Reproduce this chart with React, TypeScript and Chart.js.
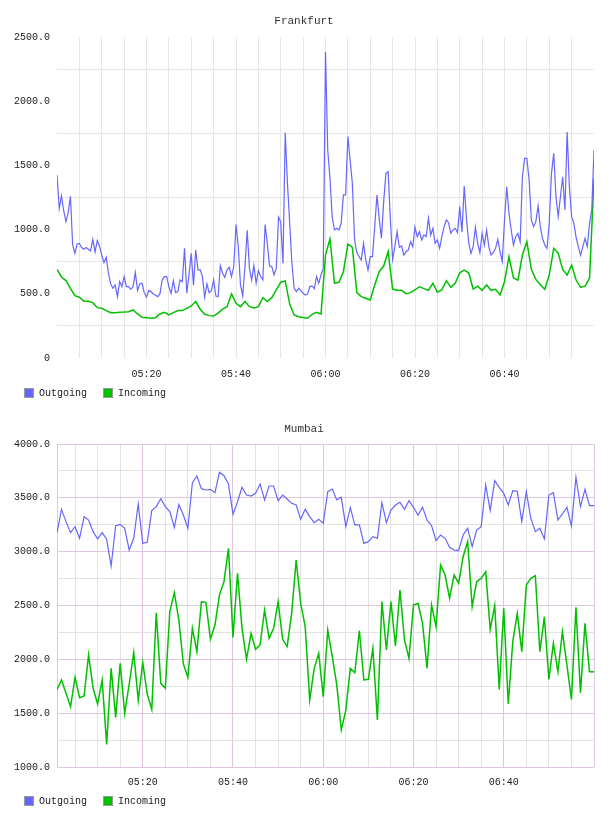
import React, { useEffect, useRef } from 'react';
import { Chart, registerables } from 'chart.js';

Chart.register(...registerables);

const FONT_FAMILY = "'Liberation Mono', 'DejaVu Sans Mono', monospace";
const OUT_COLOR = '#6666ff';
const IN_COLOR = '#00c000';

// Time axis in minutes after 05:00
const frankfurtTimeTicks = [0, 5, 10, 15, 20, 25, 30, 35, 40, 45, 50, 55, 60, 65, 70, 75, 80, 85, 90, 95, 100, 105, 110, 115, 120];
const mumbaiTimeTicks = [1, 5, 10, 15, 20, 25, 30, 35, 40, 45, 50, 55, 60, 65, 70, 75, 80, 85, 90, 95, 100, 105, 110, 115, 120];
const timeLabelMinutes = [20, 40, 60, 80, 100];
const timeLabels = ['05:20', '05:40', '06:00', '06:20', '06:40'];

const frankfurtValueTicks = [0, 250, 500, 750, 1000, 1250, 1500, 1750, 2000, 2250, 2500];
const frankfurtValueLabels = ['0', '', '500.0', '', '1000.0', '', '1500.0', '', '2000.0', '', '2500.0'];
const mumbaiValueTicks = [1000, 1250, 1500, 1750, 2000, 2250, 2500, 2750, 3000, 3250, 3500, 3750, 4000];
const mumbaiValueLabels = ['1000.0', '', '1500.0', '', '2000.0', '', '2500.0', '', '3000.0', '', '3500.0', '', '4000.0'];

// Frankfurt: outgoing every 30 s from 05:00, incoming every minute from 05:00
const frankfurtOutgoing = [
  1425, 1166, 1262, 1145, 1062, 1132, 1260, 880, 815, 888,
  893, 860, 847, 860, 847, 834, 924, 826, 914, 870,
  802, 743, 784, 660, 577, 543, 569, 478, 595, 556,
  634, 556, 556, 535, 556, 665, 525, 577, 582, 509,
  473, 525, 517, 499, 488, 478, 499, 608, 634, 634,
  556, 504, 603, 509, 517, 608, 595, 854, 504, 647,
  815, 566, 841, 686, 686, 634, 473, 577, 509, 525,
  608, 483, 478, 720, 660, 628, 686, 706, 634, 712,
  1040, 872, 569, 483, 712, 995, 698, 608, 720, 582,
  680, 634, 608, 1040, 893, 717, 712, 647, 698, 1096,
  1060, 737, 1755, 1360, 1049, 732, 543, 517, 543, 525,
  504, 491, 499, 556, 561, 540, 634, 582, 647, 698,
  2385, 1620, 1400, 1100, 997, 1010, 997, 1049, 1270, 1270,
  1725, 1542, 1360, 919, 821, 789, 763, 893, 763, 685,
  789, 789, 1023, 1270, 1088, 932, 1218, 1438, 1451, 1075,
  769, 867, 984, 862, 872, 802, 828, 841, 906, 867,
  1018, 945, 984, 919, 958, 945, 1088, 958, 1010, 893,
  919, 854, 945, 1023, 1075, 1054, 971, 997, 1010, 976,
  1179, 980, 1340, 1088, 898, 815, 867, 1018, 893, 820,
  971, 880, 997, 867, 802, 823, 854, 924, 828, 750,
  1075, 1334, 1127, 997, 880, 945, 971, 906, 1412, 1555,
  1555, 1386, 1075, 1023, 1062, 1184, 1023, 932, 880, 854,
  1049, 1438, 1594, 1256, 1101, 1256, 1412, 1153, 1760, 1334,
  1101, 1049, 940, 867, 800, 867, 932, 867, 1044, 1153, 1620,
];
const frankfurtIncoming = [
  691, 631, 603, 543, 486, 473, 442, 442, 431, 392,
  387, 369, 353, 353, 356, 358, 361, 374, 343, 317,
  314, 309, 314, 343, 356, 335, 353, 369, 369, 387,
  405, 440, 380, 340, 330, 327, 350, 380, 400, 499,
  426, 400, 440, 400, 390, 400, 470, 440, 470, 530,
  590, 600, 420, 335, 322, 315, 310, 340, 355, 343,
  802, 927, 584, 590, 672, 888, 862, 509, 478, 465,
  452, 569, 672, 716, 828, 537, 527, 527, 501, 509,
  530, 555, 540, 527, 582, 513, 530, 602, 550, 584,
  664, 685, 664, 537, 560, 527, 569, 527, 535, 491,
  594, 789, 623, 607, 802, 906, 690, 612, 570, 535,
  646, 854, 816, 690, 646, 724, 607, 550, 560, 620, 1400,
];

// Mumbai: both series every minute from 05:01
const mumbaiOutgoing = [
  3177, 3393, 3279, 3177, 3232, 3124, 3325, 3294, 3186, 3118,
  3177, 3115, 2867, 3242, 3254, 3217, 3015, 3124, 3443, 3077,
  3087, 3381, 3418, 3492, 3418, 3372, 3226, 3437, 3341, 3217,
  3641, 3703, 3585, 3573, 3579, 3548, 3737, 3706, 3628, 3347,
  3464, 3598, 3526, 3517, 3542, 3628, 3480, 3610, 3610, 3474,
  3526, 3489, 3449, 3433, 3300, 3393, 3325, 3269, 3300, 3263,
  3557, 3582, 3480, 3505, 3232, 3409, 3248, 3248, 3077, 3093,
  3139, 3124, 3455, 3269, 3387, 3433, 3458, 3393, 3474, 3412,
  3337, 3412, 3294, 3242, 3102, 3155, 3124, 3040, 3015, 3009,
  3155, 3217, 3046, 3201, 3232, 3619, 3381, 3659, 3598, 3542,
  3433, 3567, 3560, 3279, 3557, 3310, 3186, 3217, 3118, 3526,
  3548, 3294, 3350, 3412, 3238, 3690, 3418, 3579, 3427, 3427,
];
const mumbaiIncoming = [
  1721, 1808, 1684, 1560, 1833, 1644, 1659, 2040, 1731, 1585,
  1808, 1210, 1916, 1461, 1963, 1498, 1771, 2062, 1622, 1969,
  1678, 1535, 2433, 1777, 1731, 2443, 2619, 2365, 1957, 1833,
  2288, 2071, 2535, 2529, 2186, 2319, 2597, 2721, 3031, 2204,
  2799, 2288, 2000, 2241, 2093, 2133, 2458, 2195, 2288, 2535,
  2186, 2118, 2427, 2923, 2520, 2303, 1622, 1916, 2056, 1653,
  2272, 2025, 1762, 1344, 1529, 1916, 1876, 2266, 1808, 1814,
  2102, 1436, 2536, 2087, 2536, 2124, 2644, 2180, 2009, 2505,
  2520, 2334, 1916, 2505, 2303, 2876, 2783, 2567, 2783, 2706,
  2953, 3093, 2489, 2721, 2752, 2814, 2279, 2500, 1721, 2474,
  1585, 2164, 2427, 2071, 2690, 2752, 2777, 2071, 2396, 1814,
  2149, 1885, 2257, 1947, 1628, 2483, 1690, 2334, 1885, 1885,
];

type Panel = {
  title: string;
  outgoing: number[];
  incoming: number[];
  outStart: number;
  outStep: number;
  inStart: number;
  inStep: number;
  xTicks: number[];
  yTicks: number[];
  yLabels: string[];
  xMin: number;
  xMax: number;
  yMin: number;
  yMax: number;
  titleBottom: number;
  bottomPad: number;
  xLabelPad: number;
  xGrid: (v: number) => string;
  yGrid: (v: number) => string;
};

const TRANSPARENT = 'rgba(0,0,0,0)';
const F_GRID = '#e6e6e6';
const M_MAJOR = '#dfc6df';
const M_MINOR = '#e2e2e2';

const panels: Panel[] = [
  {
    title: 'Frankfurt',
    outgoing: frankfurtOutgoing,
    incoming: frankfurtIncoming,
    outStart: 0,
    outStep: 0.5,
    inStart: 0,
    inStep: 1,
    xTicks: frankfurtTimeTicks,
    yTicks: frankfurtValueTicks,
    yLabels: frankfurtValueLabels,
    xMin: 0,
    xMax: 120,
    yMin: 0,
    yMax: 2500,
    titleBottom: 9.8,
    bottomPad: 36,
    xLabelPad: 10,
    xGrid: (v) => (v === 0 || v === 120 ? TRANSPARENT : F_GRID),
    yGrid: (v) => (v % 500 === 0 ? TRANSPARENT : F_GRID),
  },
  {
    title: 'Mumbai',
    outgoing: mumbaiOutgoing,
    incoming: mumbaiIncoming,
    outStart: 1,
    outStep: 1,
    inStart: 1,
    inStep: 1,
    xTicks: mumbaiTimeTicks,
    yTicks: mumbaiValueTicks,
    yLabels: mumbaiValueLabels,
    xMin: 1,
    xMax: 120,
    yMin: 1000,
    yMax: 4000,
    titleBottom: 8.8,
    bottomPad: 35,
    xLabelPad: 9,
    xGrid: (v) => (v === 1 || v === 120 || v % 20 === 0 ? M_MAJOR : M_MINOR),
    yGrid: (v) => (v % 500 === 0 ? M_MAJOR : M_MINOR),
  },
];

function toPoints(values: number[], start: number, step: number) {
  return values.map((v, i) => ({ x: start + i * step, y: v }));
}

// Legend drawn in the Flot style: small bordered boxes below the x axis, left aligned
const flotLegend = {
  id: 'flotLegend',
  afterDraw(chart: any) {
    const ctx = chart.ctx;
    const boxTop = chart.height - 28;
    let x = 16;
    ctx.save();
    ctx.font = `10px ${FONT_FAMILY}`;
    ctx.textBaseline = 'middle';
    ctx.textAlign = 'left';
    chart.data.datasets.forEach((ds: any) => {
      ctx.fillStyle = ds.borderColor;
      ctx.fillRect(x, boxTop, 10, 10);
      ctx.strokeStyle = '#999999';
      ctx.lineWidth = 1;
      ctx.strokeRect(x + 0.5, boxTop + 0.5, 9, 9);
      ctx.fillStyle = '#222222';
      ctx.fillText(ds.label, x + 15, boxTop + 5.5);
      x += 15 + ctx.measureText(ds.label).width + 16;
    });
    ctx.restore();
  },
};

function buildConfig(p: Panel): any {
  const font = { family: FONT_FAMILY, size: 10 };
  return {
    type: 'line',
    data: {
      datasets: [
        {
          label: 'Outgoing',
          data: toPoints(p.outgoing, p.outStart, p.outStep),
          borderColor: OUT_COLOR,
          backgroundColor: OUT_COLOR,
          borderWidth: 1.2,
          pointRadius: 0,
          tension: 0,
          fill: false,
        },
        {
          label: 'Incoming',
          data: toPoints(p.incoming, p.inStart, p.inStep),
          borderColor: IN_COLOR,
          backgroundColor: IN_COLOR,
          borderWidth: 1.5,
          pointRadius: 0,
          tension: 0,
          fill: false,
        },
      ],
    },
    plugins: [flotLegend],
    options: {
      animation: false,
      responsive: false,
      events: [],
      layout: { padding: { left: 0, right: 0, top: 0, bottom: p.bottomPad } },
      plugins: {
        title: {
          display: true,
          text: p.title,
          color: '#333',
          font: { family: FONT_FAMILY, size: 11, weight: 'normal' },
          padding: { top: 6, bottom: p.titleBottom },
        },
        legend: { display: false },
        tooltip: { enabled: false },
      },
      scales: {
        x: {
          type: 'linear',
          min: p.xMin,
          max: p.xMax,
          afterBuildTicks: (scale: any) => {
            scale.ticks = p.xTicks.map((v) => ({ value: v }));
          },
          afterFit: (scale: any) => {
            scale.height = 22;
            scale.paddingLeft = 0;
            scale.paddingRight = 6;
          },
          ticks: {
            autoSkip: false,
            maxRotation: 0,
            minRotation: 0,
            padding: p.xLabelPad,
            color: '#222',
            font,
            callback: (v: number) => {
              const idx = timeLabelMinutes.indexOf(v);
              return idx >= 0 ? timeLabels[idx] : '';
            },
          },
          grid: {
            drawTicks: false,
            lineWidth: 1,
            color: (ctx: any) => p.xGrid(ctx.tick ? ctx.tick.value : 0),
          },
          border: { display: false },
        },
        y: {
          type: 'linear',
          min: p.yMin,
          max: p.yMax,
          afterBuildTicks: (scale: any) => {
            scale.ticks = p.yTicks.map((v) => ({ value: v }));
          },
          afterFit: (scale: any) => {
            scale.width = 49;
          },
          ticks: {
            autoSkip: false,
            padding: 7,
            color: '#222',
            font,
            callback: (v: number) => {
              const idx = p.yTicks.indexOf(v);
              return idx >= 0 ? p.yLabels[idx] : '';
            },
          },
          grid: {
            drawTicks: false,
            lineWidth: 1,
            color: (ctx: any) => p.yGrid(ctx.tick ? ctx.tick.value : 0),
          },
          border: { display: false },
        },
      },
    },
  };
}

function ChartPanel({ panel }: { panel: Panel }) {
  const ref = useRef<HTMLCanvasElement>(null);
  useEffect(() => {
    if (!ref.current) return;
    const chart = new Chart(ref.current, buildConfig(panel));
    return () => chart.destroy();
  }, [panel]);
  return <canvas ref={ref} width={592} height={408} style={{ display: 'block', width: 592, height: 408 }} />;
}

export default function App() {
  return (
    <div style={{ width: 592 }}>
      {panels.map((p) => (
        <ChartPanel key={p.title} panel={p} />
      ))}
    </div>
  );
}
